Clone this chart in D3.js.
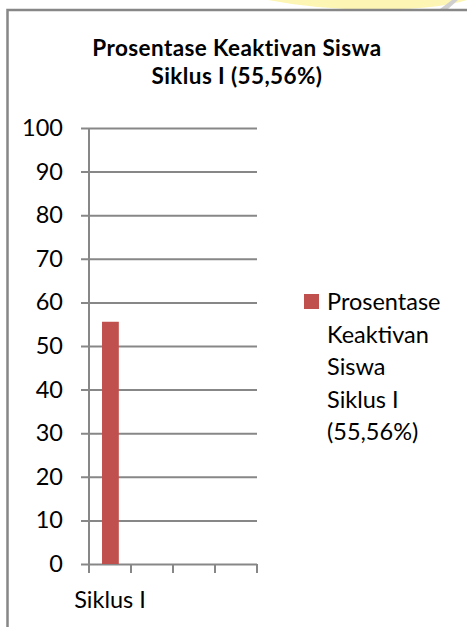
<!DOCTYPE html>
<html>
<head>
<meta charset="utf-8">
<script src="https://cdn.jsdelivr.net/npm/d3@7"></script>
<style>
  body { margin: 0; background: #fff; }
  svg { display: block; font-family: Lato, "Open Sans", sans-serif; }
  .axis text { fill: #000; }
</style>
</head>
<body>
<svg width="467" height="627"></svg>
<script>
const titleLines  = ["Prosentase Keaktivan Siswa", "Siklus I (55,56%)"];
const categories  = ["Siklus I", "", "", ""];
const values      = [55.56, null, null, null];
const yTicks      = [0, 10, 20, 30, 40, 50, 60, 70, 80, 90, 100];
const legendLines = ["Prosentase", "Keaktivan", "Siswa", "Siklus I", "(55,56%)"];

const barColor  = "#c0504d",
      lineColor = "#878787",
      fontSize  = 23.5;

let svg = d3.select("svg");

// faint watermark above the frame
svg.append("path")
  .attr("d", "M268,0 Q330,12 400,9 Q440,8 467,0 Z")
  .attr("fill", "#fdf5b4");
svg.append("path")
  .attr("d", "M440,9 L452,0 L458,0 L448,9 Z")
  .attr("fill", "#cfcfcf");

// frame (open on right and bottom, cropped)
svg.append("path")
  .attr("d", "M7.5,627 L7.5,10 L467,10")
  .attr("fill", "none")
  .attr("stroke", lineColor)
  .attr("stroke-width", 2.5);

// title
svg.append("text")
  .attr("y", 56)
  .attr("text-anchor", "middle")
  .attr("font-weight", "bold")
  .attr("font-size", 22.5)
  .attr("letter-spacing", 0.4)
  .selectAll("tspan")
  .data(titleLines)
  .enter().append("tspan")
    .attr("x", 237)
    .attr("dy", (d, i) => i ? 27.5 : 0)
    .text(d => d);

let x = d3.scaleBand()
          .domain(d3.range(categories.length))
          .range([89, 257]),
    y = d3.scaleLinear()
          .domain([0, 100])
          .range([564, 128]);

// horizontal gridlines with left tick stubs
svg.append("g")
  .attr("class", "grid")
  .attr("transform", `translate(${x.range()[1]},0)`)
  .call(d3.axisLeft(y).tickValues(yTicks).tickSize(x.range()[1] - x.range()[0] + 8).tickFormat(""))
  .call(g => g.select(".domain").remove())
  .call(g => g.selectAll("line").attr("stroke", lineColor).attr("stroke-width", 2));

// y labels
svg.append("g")
  .attr("class", "axis")
  .attr("transform", `translate(${x.range()[0]},0)`)
  .call(d3.axisLeft(y).tickValues(yTicks).tickSize(0).tickPadding(26))
  .call(g => g.select(".domain").remove())
  .call(g => g.selectAll("text").attr("font-size", fontSize).attr("font-family", "Lato, sans-serif"));

// bars
svg.selectAll(".bar")
  .data(values.map((v, i) => [i, v]).filter(d => d[1] != null))
  .enter().append("rect")
    .attr("class", "bar")
    .attr("x", d => x(d[0]) + x.bandwidth() * 0.31)
    .attr("width", x.bandwidth() * 0.4)
    .attr("y", d => y(d[1]))
    .attr("height", d => y(0) - y(d[1]))
    .attr("fill", barColor);

// y axis line
svg.append("line")
  .attr("x1", x.range()[0]).attr("x2", x.range()[0])
  .attr("y1", y(100)).attr("y2", y(0) + 9)
  .attr("stroke", lineColor).attr("stroke-width", 2);

// category boundary ticks on x axis
let bounds = d3.range(categories.length + 1).map(i => x.range()[0] + i * x.step());
svg.selectAll(".xtick")
  .data(bounds)
  .enter().append("line")
    .attr("class", "xtick")
    .attr("x1", d => d).attr("x2", d => d)
    .attr("y1", y(0)).attr("y2", y(0) + 9)
    .attr("stroke", lineColor).attr("stroke-width", 2);

// x labels
svg.append("g")
  .attr("class", "axis")
  .attr("transform", `translate(0,${y(0)})`)
  .call(d3.axisBottom(x).tickSize(0).tickPadding(27).tickFormat(i => categories[i]))
  .call(g => g.select(".domain").remove())
  .call(g => g.selectAll("text").attr("font-size", fontSize).attr("font-family", "Lato, sans-serif"));

// legend
let legend = svg.append("g").attr("transform", "translate(304,294)");
legend.append("rect")
  .attr("width", 15).attr("height", 15)
  .attr("fill", barColor);
legend.append("text")
  .attr("font-size", fontSize)
  .selectAll("tspan")
  .data(legendLines)
  .enter().append("tspan")
    .attr("x", 23)
    .attr("y", (d, i) => 16 + i * 32.5)
    .text(d => d);
</script>
</body>
</html>
